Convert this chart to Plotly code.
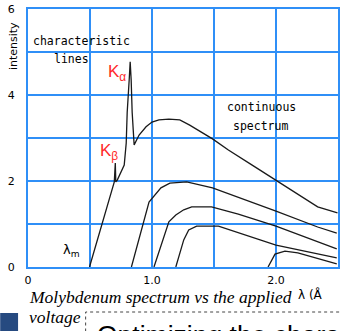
import plotly.graph_objects as go

# ---- data ----
x_top = [0.496, 0.696, 0.704, 0.708, 0.72, 0.776, 0.792, 0.80, 0.816, 0.824, 0.832, 0.84, 0.856,
         0.896, 0.952, 1.0, 1.056, 1.136, 1.224, 1.304, 1.488, 1.616, 1.808, 2.0, 2.336, 2.496]
y_top = [0.0, 1.98, 2.42, 1.98, 2.02, 2.37, 2.88, 3.60, 4.35, 4.77, 4.35, 3.60, 2.84,
         3.07, 3.26, 3.37, 3.42, 3.44, 3.42, 3.30, 2.98, 2.72, 2.37, 2.02, 1.40, 1.26]

x_c2 = [0.834, 0.976, 1.072, 1.144, 1.28, 1.488, 2.0, 2.336, 2.49]
y_c2 = [0.0, 1.51, 1.84, 1.95, 1.98, 1.84, 1.30, 0.93, 0.79]

x_c3 = [1.016, 1.136, 1.192, 1.256, 1.32, 1.48, 1.696, 2.0, 2.49]
y_c3 = [0.0, 1.05, 1.21, 1.33, 1.40, 1.40, 1.23, 0.95, 0.42]

x_c4 = [1.192, 1.256, 1.296, 1.36, 1.536, 2.0, 2.49]
y_c4 = [0.0, 0.63, 0.86, 0.95, 0.95, 0.51, 0.21]

x_c5 = [1.936, 1.992, 2.072, 2.176, 2.49]
y_c5 = [0.0, 0.30, 0.37, 0.33, 0.07]

x_tickvals = [0, 1.0, 2.0]
x_ticktext = ["0", "1.0", "2.0"]
y_tickvals = [0, 2, 4, 6]
y_ticktext = ["0", "2", "4", "6"]

# ---- figure ----
W, H = 342, 331
L, R, T, B = 28, 2, 9, 64
PW, PH = W - L - R, H - T - B


def px(x):
    return (x - L) / PW


def py(y):
    return (H - B - y) / PH


GRID = "#2f8ff7"
LINE = dict(color="#1a1a1a", width=1.3)

fig = go.Figure()
for xs, ys in [(x_top, y_top), (x_c2, y_c2), (x_c3, y_c3), (x_c4, y_c4), (x_c5, y_c5)]:
    fig.add_trace(go.Scatter(x=xs, y=ys, mode="lines", line=LINE, hoverinfo="skip"))

tickfont = dict(family="DejaVu Sans", size=11, color="black")
fig.update_layout(
    width=W, height=H,
    margin=dict(l=L, r=R, t=T, b=B),
    paper_bgcolor="white", plot_bgcolor="white",
    showlegend=False,
    xaxis=dict(range=[0, 2.5], tickvals=x_tickvals, ticktext=x_ticktext,
               showgrid=True, gridcolor=GRID, gridwidth=2,
               minor=dict(dtick=0.5, tick0=0, showgrid=True, gridcolor=GRID, gridwidth=2),
               showline=True, linecolor=GRID, linewidth=2, mirror=True,
               zeroline=False, ticks="outside", ticklen=2, tickcolor="rgba(0,0,0,0)",
               tickfont=tickfont, fixedrange=True),
    yaxis=dict(range=[0, 6], tickvals=y_tickvals, ticktext=y_ticktext,
               showgrid=True, gridcolor=GRID, gridwidth=2,
               minor=dict(dtick=1, tick0=0, showgrid=True, gridcolor=GRID, gridwidth=2),
               showline=True, linecolor=GRID, linewidth=2, mirror=True,
               zeroline=False, ticks="outside", ticklen=9, tickcolor="rgba(0,0,0,0)",
               tickfont=tickfont, fixedrange=True),
)

lab = dict(family="DejaVu Sans Mono", size=11.5, color="black")
red = dict(family="Liberation Sans", size=17, color="#ff2a2a")
ann = [
    dict(text="intensity", x=px(13), y=py(46), textangle=-90, font=dict(family="DejaVu Sans", size=11, color="black")),
    dict(text="characteristic", x=px(82), y=py(41), font=lab),
    dict(text="lines", x=px(72), y=py(59), font=lab),
    dict(text="continuous", x=px(263), y=py(107), font=lab),
    dict(text="spectrum", x=px(262), y=py(126), font=lab),
    dict(text="K<sub>α</sub>", x=px(118), y=py(73), font=red),
    dict(text="K<sub>β</sub>", x=px(110), y=py(152), font=red),
    dict(text="λ<sub>m</sub>", x=px(72), y=py(250), font=dict(family="DejaVu Sans", size=13, color="black")),
    dict(text="<i>Molybdenum spectrum vs the applied</i>", x=px(27), y=py(297), xanchor="left",
         font=dict(family="Liberation Serif", size=17.5, color="black")),
    dict(text="<i>voltage</i>", x=px(27), y=py(317), xanchor="left",
         font=dict(family="Liberation Serif", size=17.5, color="black")),
    dict(text="λ (Å", x=px(298), y=py(294), xanchor="left",
         font=dict(family="DejaVu Sans", size=12, color="black")),
    dict(text="Optimizing the characteristic", x=px(95), y=py(318), xanchor="left", yanchor="top",
         font=dict(family="Liberation Sans", size=26.5, color="black")),
]
for a in ann:
    a.setdefault("xanchor", "center")
    a.setdefault("yanchor", "middle")
    fig.add_annotation(xref="paper", yref="paper", showarrow=False, **a)

fig.add_shape(type="rect", xref="paper", yref="paper", x0=px(86), x1=px(360), y0=py(345), y1=py(312),
              line=dict(color="#444", width=1, dash="dot"), fillcolor="rgba(0,0,0,0)")
fig.add_shape(type="rect", xref="paper", yref="paper", x0=px(0), x1=px(18), y0=py(331), y1=py(313),
              line=dict(width=0), fillcolor="#264a80")

fig.write_html("out.html", config={"displayModeBar": False},
               post_script="document.body.style.margin='0';document.body.style.overflow='hidden';")
